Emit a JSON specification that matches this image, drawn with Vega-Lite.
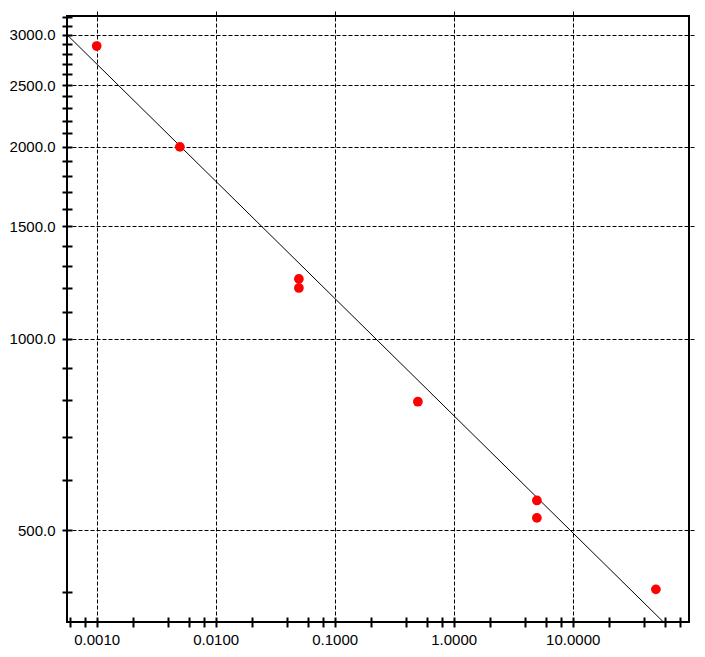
{
  "$schema": "https://vega.github.io/schema/vega-lite/v6.json",
  "width": 622,
  "height": 606,
  "autosize": {"type": "none"},
  "padding": {"left": 67, "top": 16, "right": 16, "bottom": 35},
  "background": "white",
  "config": {
    "view": {"stroke": "black", "strokeWidth": 2},
    "axis": {
      "domain": false,
      "tickColor": "black",
      "tickWidth": 2,
      "tickSize": 10,
      "offset": -5,
      "labelFont": "Liberation Sans, Arial, sans-serif",
      "labelFontSize": 15,
      "labelColor": "black",
      "labelOverlap": false,
      "labelFlush": false,
      "gridColor": "black",
      "gridWidth": 1,
      "gridDash": [4, 2],
      "title": null
    }
  },
  "datasets": {
    "points": [
      {"x": 0.001, "y": 2880},
      {"x": 0.005, "y": 2000},
      {"x": 0.05, "y": 1241},
      {"x": 0.05, "y": 1201},
      {"x": 0.5, "y": 796},
      {"x": 5, "y": 557},
      {"x": 5, "y": 523},
      {"x": 50, "y": 404}
    ],
    "fit": [
      {"x": 0.000563, "y": 3000},
      {"x": 57.4, "y": 359.5}
    ]
  },
  "encoding": {
    "x": {
      "field": "x",
      "type": "quantitative",
      "scale": {"type": "log", "domain": [0.000563, 94.9], "nice": false, "zero": false},
      "axis": {
        "values": [0.0006, 0.0008, 0.001, 0.002, 0.004, 0.006, 0.008, 0.01, 0.02, 0.04, 0.06, 0.08, 0.1, 0.2, 0.4, 0.6, 0.8, 1, 2, 4, 6, 8, 10, 20, 40, 60, 80],
        "labelExpr": "abs(log(datum.value)/LN10 - round(log(datum.value)/LN10)) < 0.001 ? format(datum.value, '.4f') : ''",
        "labelPadding": 5,
        "grid": true,
        "gridOpacity": {"condition": {"test": "abs(log(datum.value)/LN10 - round(log(datum.value)/LN10)) < 0.001", "value": 1}, "value": 0}
      }
    },
    "y": {
      "field": "y",
      "type": "quantitative",
      "scale": {"type": "log", "domain": [359, 3210], "nice": false, "zero": false},
      "axis": {
        "values": [400, 500, 600, 700, 800, 900, 1000, 1100, 1200, 1300, 1400, 1500, 1600, 1700, 1800, 1900, 2000, 2100, 2200, 2300, 2400, 2500, 2600, 2700, 2800, 2900, 3000, 3100, 3200],
        "labelExpr": "datum.value % 500 == 0 ? format(datum.value, '.1f') : ''",
        "labelPadding": 7,
        "grid": true,
        "gridOpacity": {"condition": {"test": "datum.value % 500 == 0", "value": 1}, "value": 0}
      }
    }
  },
  "layer": [
    {
      "data": {"name": "fit"},
      "mark": {"type": "line", "color": "black", "strokeWidth": 1, "clip": true}
    },
    {
      "data": {"name": "points"},
      "mark": {"type": "circle", "size": 95, "color": "#ff0000", "opacity": 1}
    }
  ]
}
